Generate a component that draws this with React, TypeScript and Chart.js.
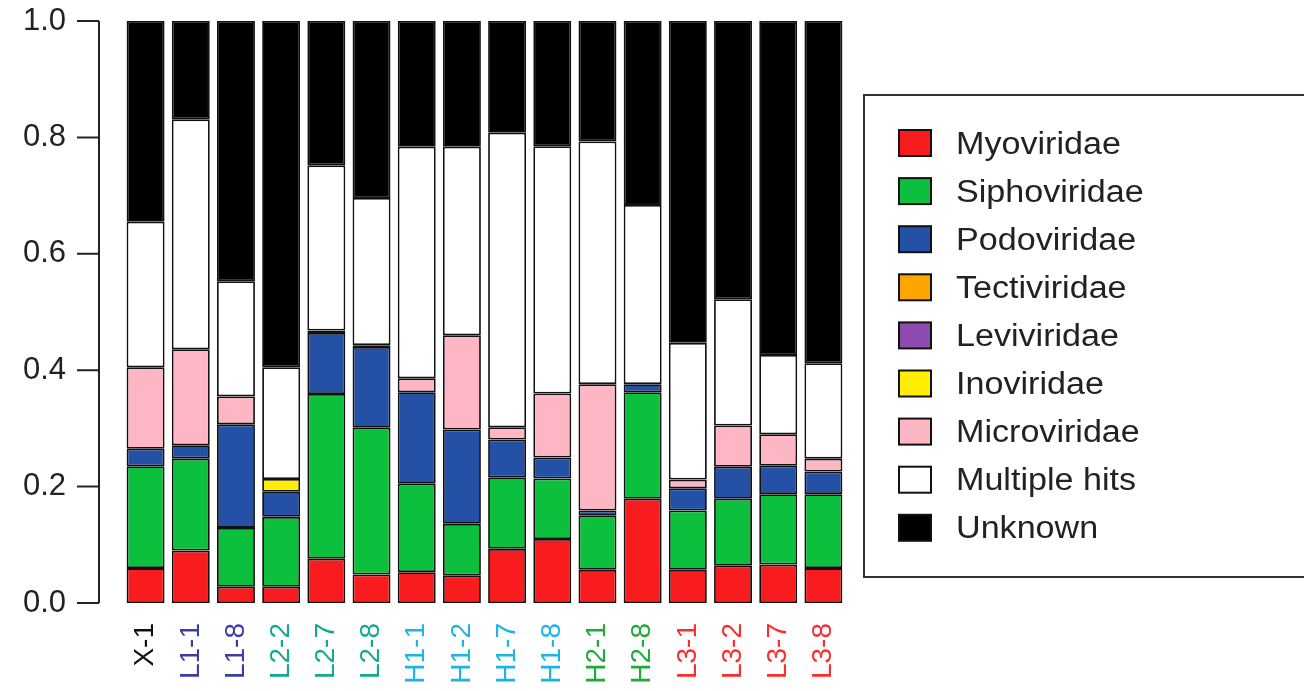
import { useEffect, useRef } from 'react';
import { Chart, registerables } from 'chart.js';

Chart.register(...registerables);

const samples = ['X-1', 'L1-1', 'L1-8', 'L2-2', 'L2-7', 'L2-8', 'H1-1', 'H1-2', 'H1-7', 'H1-8', 'H2-1', 'H2-8', 'L3-1', 'L3-2', 'L3-7', 'L3-8'];
const sampleColors = ['#111111', '#3c3ca6', '#3c3ca6', '#12a892', '#12a892', '#12a892', '#1fb4e6', '#1fb4e6', '#1fb4e6', '#1fb4e6', '#1faa3c', '#1faa3c', '#fb2d2d', '#fb2d2d', '#fb2d2d', '#fb2d2d'];

const myoviridae = [0.060, 0.090, 0.028, 0.028, 0.076, 0.049, 0.053, 0.047, 0.093, 0.110, 0.057, 0.179, 0.057, 0.064, 0.066, 0.060];
const siphoviridae = [0.175, 0.158, 0.101, 0.120, 0.283, 0.252, 0.152, 0.089, 0.123, 0.104, 0.093, 0.183, 0.102, 0.115, 0.121, 0.127];
const podoviridae = [0.030, 0.023, 0.178, 0.043, 0.105, 0.139, 0.157, 0.162, 0.065, 0.036, 0.009, 0.014, 0.038, 0.055, 0.049, 0.039];
const tectiviridae = [0, 0, 0, 0, 0, 0, 0, 0, 0, 0, 0, 0, 0, 0, 0, 0];
const leviviridae = [0, 0, 0, 0, 0, 0, 0, 0, 0, 0, 0, 0, 0, 0, 0, 0];
const inoviridae = [0, 0, 0, 0.022, 0, 0, 0, 0, 0, 0, 0, 0, 0, 0, 0, 0];
const microviridae = [0.140, 0.165, 0.048, 0, 0.004, 0.003, 0.024, 0.162, 0.021, 0.110, 0.217, 0, 0.015, 0.071, 0.054, 0.022];
const multipleHits = [0.250, 0.395, 0.198, 0.192, 0.284, 0.253, 0.398, 0.324, 0.506, 0.425, 0.417, 0.308, 0.235, 0.217, 0.136, 0.164];
const unknown = [0.345, 0.169, 0.447, 0.595, 0.248, 0.304, 0.216, 0.216, 0.192, 0.215, 0.207, 0.316, 0.553, 0.478, 0.574, 0.588];

const seriesNames = ['Myoviridae', 'Siphoviridae', 'Podoviridae', 'Tectiviridae', 'Leviviridae', 'Inoviridae', 'Microviridae', 'Multiple hits', 'Unknown'];
const seriesValues = [myoviridae, siphoviridae, podoviridae, tectiviridae, leviviridae, inoviridae, microviridae, multipleHits, unknown];
const seriesColors = ['#f91c1f', '#0cbf3c', '#2451a6', '#ffa500', '#8e4aae', '#ffee00', '#ffb6c4', '#ffffff', '#000000'];

const yTickValues = [0, 0.2, 0.4, 0.6, 0.8, 1.0];

const FONT = '"Liberation Sans", Arial, Helvetica, sans-serif';

const axisPlugin = {
  id: 'rAxis',
  afterDraw(chart: any) {
    const ctx = chart.ctx;
    const y = chart.scales.y;
    const axisX = 99;
    ctx.save();
    ctx.strokeStyle = '#222';
    ctx.lineWidth = 2;
    ctx.beginPath();
    ctx.moveTo(axisX, y.getPixelForValue(yTickValues[yTickValues.length - 1]));
    ctx.lineTo(axisX, y.getPixelForValue(yTickValues[0]));
    for (const v of yTickValues) {
      const py = y.getPixelForValue(v);
      ctx.moveTo(77, py);
      ctx.lineTo(axisX, py);
    }
    ctx.stroke();
    ctx.restore();
  },
};

const legendPlugin = {
  id: 'boxLegend',
  afterDraw(chart: any) {
    const ctx = chart.ctx;
    ctx.save();
    ctx.strokeStyle = '#333';
    ctx.lineWidth = 2;
    ctx.strokeRect(864, 95, 460, 482);
    const ds = chart.data.datasets;
    for (let i = 0; i < ds.length; i++) {
      const cy = 143 + i * 48.1;
      ctx.fillStyle = ds[i].backgroundColor;
      ctx.fillRect(899, cy - 13, 32, 26);
      ctx.strokeStyle = '#111';
      ctx.lineWidth = 2;
      ctx.strokeRect(899, cy - 13, 32, 26);
      ctx.save();
      ctx.translate(956, cy + 2);
      ctx.scale(1.1, 1);
      ctx.font = `31px ${FONT}`;
      ctx.textBaseline = 'middle';
      ctx.textAlign = 'left';
      ctx.fillStyle = '#222';
      ctx.fillText(ds[i].label, 0, 0);
      ctx.restore();
    }
    ctx.restore();
  },
};

export default function App() {
  const ref = useRef<HTMLCanvasElement>(null);
  useEffect(() => {
    const chart = new Chart(ref.current as HTMLCanvasElement, {
      type: 'bar',
      data: {
        labels: samples,
        datasets: seriesNames.map((name, i) => ({
          label: name,
          data: seriesValues[i],
          backgroundColor: seriesColors[i],
          borderColor: '#111',
          borderWidth: 1.8,
          borderSkipped: false,
          barPercentage: 0.84,
          categoryPercentage: 1,
        })),
      },
      options: {
        animation: false,
        responsive: false,
        maintainAspectRatio: false,
        layout: { padding: { top: 21, right: 458, left: 0, bottom: 0 } },
        plugins: { legend: { display: false }, tooltip: { enabled: false } },
        scales: {
          x: {
            stacked: true,
            grid: { display: false, drawTicks: false },
            border: { display: false },
            ticks: {
              autoSkip: false,
              minRotation: 90,
              maxRotation: 90,
              padding: 20,
              color: (c: any) => sampleColors[c.index],
              font: { family: FONT, size: 28 },
            },
            afterFit: (s: any) => { s.height = 88; s.paddingLeft = 0; s.paddingRight = 0; },
          },
          y: {
            stacked: true,
            min: 0,
            max: 1,
            grid: { display: false, drawTicks: false },
            border: { display: false },
            ticks: {
              stepSize: 0.2,
              padding: 57,
              color: '#222',
              font: { family: FONT, size: 31 },
              callback: (v: any) => Number(v).toFixed(1),
            },
            afterFit: (s: any) => { s.width = 123; s.paddingTop = 0; s.paddingBottom = 0; },
          },
        },
      } as any,
      plugins: [axisPlugin, legendPlugin],
    });
    return () => chart.destroy();
  }, []);
  return (
    <div style={{ position: 'fixed', left: 0, top: 0, width: 1304, height: 691, background: '#fff' }}>
      <canvas ref={ref} width={1304} height={691} style={{ display: 'block' }} />
    </div>
  );
}
